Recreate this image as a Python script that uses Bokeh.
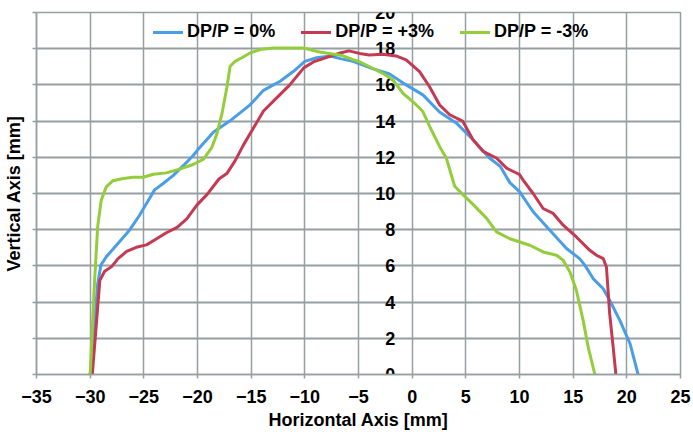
from bokeh.plotting import figure
from bokeh.models import Legend, LegendItem, FixedTicker, Range1d, CustomJSTickFormatter
from bokeh.core.properties import value
from bokeh.embed import file_html
from bokeh.resources import INLINE

x_ticks = list(range(-35, 30, 5))
y_ticks = list(range(0, 22, 2))
y_tick_labels = [str(t) for t in y_ticks]
y_axis_crossing = 0  # the vertical axis crosses at x = 0

series_names = ["DP/P = 0%", "DP/P = +3%", "DP/P = -3%"]
series_colors = ["#4A9EE6", "#C43A52", "#93CD3C"]

dp0_x = [-30, -29.3, -29.0, -28.5, -27.9, -27.25, -26.3, -25.4, -24.6, -24.0, -23.2, -22.25, -21.3,
         -20.4, -20.0, -18.5, -17.0, -15.1, -13.85, -12.3, -11.05, -10.0, -8.9, -7.6, -6.7, -5.5,
         -3.7, -2.1, -0.56, 1.0, 2.55, 4.1, 5.67, 7.2, 8.2, 9.1, 10.0, 11.27, 12.83, 14.38, 15.6,
         16.1, 16.86, 17.8, 18.4, 19.35, 20.3, 21.05]
dp0_y = [0, 5.0, 6.05, 6.5, 6.9, 7.35, 8.0, 8.8, 9.6, 10.2, 10.55, 11.0, 11.55,
         12.1, 12.4, 13.4, 14.0, 14.9, 15.7, 16.2, 16.75, 17.3, 17.5, 17.6, 17.45, 17.3,
         16.9, 16.6, 16.0, 15.45, 14.5, 13.9, 12.97, 11.96, 11.5, 10.6, 10.1, 8.99, 7.97, 6.96, 6.4,
         6.03, 5.3, 4.74, 4.1, 2.99, 1.7, 0]

dp3_x = [-29.8, -29.1, -28.65, -28.0, -27.4, -26.6, -25.7, -24.75, -24.0, -22.9, -21.9, -21.0,
         -20.06, -19.1, -18.0, -17.27, -16.5, -15.7, -14.8, -13.85, -12.6, -11.4, -10.1, -9.2,
         -7.95, -6.7, -5.9, -4.9, -4.0, -2.74, -1.5, -0.56, 0.69, 1.62, 2.55, 3.5, 4.7, 5.67, 6.6,
         7.85, 8.8, 10.0, 10.34, 11.27, 12.2, 13.14, 14.07, 15.3, 16.55, 17.17, 17.8, 18.1, 18.4,
         18.73, 18.98]
dp3_y = [0, 5.2, 5.7, 5.96, 6.4, 6.8, 7.03, 7.16, 7.43, 7.83, 8.13, 8.6,
         9.36, 9.95, 10.8, 11.1, 11.8, 12.7, 13.6, 14.56, 15.3, 16.0, 16.94, 17.27,
         17.52, 17.76, 17.88, 17.74, 17.65, 17.69, 17.6, 17.38, 16.73, 15.9, 14.9, 14.35, 14.0, 12.97, 12.33,
         11.96, 11.4, 11.05, 10.74, 10.0, 9.17, 8.9, 8.25, 7.6, 6.86, 6.59, 6.4, 5.94, 3.36,
         1.5, 0]

dm3_x = [-30, -29.6, -29.3, -28.97, -28.5, -27.9, -26.9, -26.0, -25.06, -24.1, -22.9, -21.6, -20.4,
         -19.44, -18.66, -18.2, -17.73, -17.27, -16.96, -16.5, -15.87, -15.1, -14.16, -12.9, -11.7,
         -10.1, -8.9, -7.6, -6.5, -5.5, -4.9, -3.68, -2.74, -1.8, -0.87, 0.06, 1.0, 1.78, 2.55, 3.18,
         3.96, 4.73, 5.67, 6.92, 7.86, 9.1, 10.03, 10.96, 12.2, 13.45, 14.07, 14.7, 15.3, 15.93,
         16.4, 17.02]
dm3_y = [0, 5.05, 8.17, 9.63, 10.37, 10.7, 10.83, 10.9, 10.9, 11.06, 11.14, 11.36, 11.6,
         11.9, 12.55, 13.28, 14.38, 15.84, 17.03, 17.3, 17.5, 17.76, 17.95, 18.04, 18.04,
         18.04, 17.85, 17.72, 17.62, 17.4, 17.28, 16.92, 16.64, 16.28, 15.54, 15.08, 14.53, 13.52, 12.6, 11.96,
         10.4, 9.94, 9.4, 8.64, 7.88, 7.5, 7.32, 7.14, 6.77, 6.59, 6.31, 5.66, 4.65, 2.99,
         1.51, 0]

FONT = "Liberation Sans"
FS = "18px"
GRID = "#959EA1"

p = figure(width=693, height=436, output_backend="svg", toolbar_location=None,
           x_range=Range1d(x_ticks[0], x_ticks[-1]), y_range=Range1d(y_ticks[0], y_ticks[-1]),
           min_border_left=36, min_border_right=13, min_border_top=12, min_border_bottom=62)
p.outline_line_color = GRID
p.outline_line_width = 1.5

xa = p.xaxis[0]
xa.ticker = FixedTicker(ticks=x_ticks)
ya = p.yaxis[0]
ya.ticker = FixedTicker(ticks=y_ticks)

# grid lines follow the axes' tickers
p.xgrid.grid_line_color = GRID
p.xgrid.grid_line_alpha = 1.0
p.xgrid.grid_line_width = 1.5
p.ygrid.grid_line_color = GRID
p.ygrid.grid_line_alpha = 1.0
p.ygrid.grid_line_width = 2

xa.axis_label = "Horizontal Axis [mm]"
xa.axis_line_color = GRID
xa.axis_line_width = 1.5
xa.major_tick_line_color = GRID
xa.major_tick_line_width = 1.5
xa.major_tick_out = 4
xa.major_tick_in = 0
xa.minor_tick_out = 0
xa.minor_tick_in = 0
xa.major_label_standoff = 11
xa.axis_label_standoff = 4
xa.major_label_text_font = FONT
xa.major_label_text_font_style = "bold"
xa.major_label_text_font_size = FS
xa.major_label_text_color = "black"
xa.axis_label_text_font = FONT
xa.axis_label_text_font_style = "bold"
xa.axis_label_text_font_size = FS
xa.axis_label_text_color = "black"

ya.formatter = CustomJSTickFormatter(code="return ''")
ya.axis_label = "Vertical Axis [mm]"
ya.axis_line_color = GRID
ya.axis_line_width = 1.5
ya.major_tick_line_color = GRID
ya.major_tick_line_width = 1.5
ya.major_tick_out = 4
ya.major_tick_in = 0
ya.minor_tick_out = 0
ya.minor_tick_in = 0
ya.major_label_standoff = 0
ya.axis_label_standoff = 9
ya.axis_label_text_font = FONT
ya.axis_label_text_font_style = "bold"
ya.axis_label_text_font_size = FS
ya.axis_label_text_color = "black"

# tick labels of the vertical axis, which crosses the horizontal axis at x = 0
p.text(x=[y_axis_crossing] * len(y_ticks), y=y_ticks, text=y_tick_labels,
       x_offset=-17, text_align="right", text_baseline="middle",
       text_font=value(FONT), text_font_style="bold", text_font_size=FS, text_color="black")

items = []
for name, color, xs, ys in zip(series_names, series_colors, [dp0_x, dp3_x, dm3_x], [dp0_y, dp3_y, dm3_y]):
    r = p.line(xs, ys, line_color=color, line_width=3, line_join="round", line_cap="round")
    items.append(LegendItem(label=name, renderers=[r]))

legend = Legend(items=items, orientation="horizontal", location=(117, 332),
                glyph_width=30, glyph_height=20, label_height=20, label_standoff=4, spacing=26,
                padding=0, margin=0, border_line_alpha=0, background_fill_alpha=0,
                label_text_font=FONT, label_text_font_style="bold", label_text_font_size=FS,
                label_text_color="black")
p.add_layout(legend, "center")

open("out.html", "w").write(file_html(p, INLINE))
